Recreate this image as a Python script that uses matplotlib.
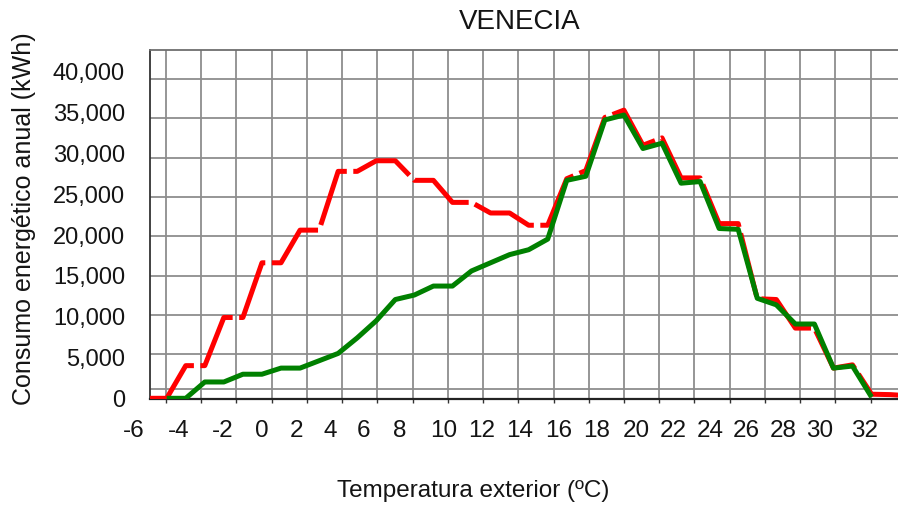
import numpy as np
import matplotlib
matplotlib.use("Agg")
import matplotlib.pyplot as plt
from matplotlib.ticker import FuncFormatter

# ---------------- data ----------------
temperaturas = list(range(-6, 35))  # ºC
consumo_rojo = [0, 0, 4000, 4000, 9900, 9900, 16600, 16600, 20600, 20600,
                27800, 27800, 29100, 29100, 26700, 26700, 24000, 24000, 22700, 22700,
                21200, 21200, 26900, 27900, 34400, 35300, 31000, 31900, 27000, 27000,
                21400, 21400, 12200, 12100, 8600, 8600, 3700, 4100, 500, 450, 300]
consumo_verde = [np.nan, 0, 0, 2000, 2000, 2950, 2950, 3700, 3700, 4600,
                 5500, 7400, 9500, 12100, 12650, 13750, 13750, 15600, 16600, 17600,
                 18200, 19500, 26700, 27200, 34100, 34700, 30600, 31250, 26350, 26550,
                 20800, 20700, 12250, 11450, 9100, 9100, 3700, 3950, 150, np.nan, np.nan]
y_ticks = [0, 5000, 10000, 15000, 20000, 25000, 30000, 35000, 40000]
x_tick_labels = ["-6", "-4", "-2", "0", "2", "4", "6", "8", "10", "12", "14",
                 "16", "18", "20", "22", "24", "26", "28", "30", "32"]
titulo = "VENECIA"
x_titulo = "Temperatura exterior (ºC)"
y_titulo = "Consumo energético anual (kWh)"

# ---------------- layout (pixels) ----------------
W, H = 898, 505
AX_L, AX_R, AX_T, AX_B = 150, 898, 50, 399.3
T0_PX, T_STEP = 147.65, 19.05          # pixel of -6 ºC and pixels per ºC
Y0_PX, V_PER_PX = 398.3, 122.5           # pixel of 0 kWh and kWh per pixel
xlim = (-6 + (AX_L - T0_PX) / T_STEP, -6 + (AX_R - T0_PX) / T_STEP)
ylim = (-(AX_B - Y0_PX) * V_PER_PX, (Y0_PX - AX_T) * V_PER_PX)

vgrid_px = [166 + 35.23 * k for k in range(21)]
hgrid_px = [389.3] + [354.3 - 39.33 * k for k in range(8)]
xlabel_px = [134, 178.3, 222.3, 261.7, 296.7, 330, 364, 400, 443.3, 481.7, 520,
             558.3, 596.7, 636.7, 673.3, 710, 746.7, 783.3, 820, 865]
XLABEL_Y = 431

font = ["Liberation Sans", "DejaVu Sans"]
plt.rcParams["font.family"] = font
TXT = "#141414"

fig = plt.figure(figsize=(W / 100, H / 100), dpi=100)
ax = fig.add_axes([AX_L / W, (H - AX_B) / H, (AX_R - AX_L) / W, (AX_B - AX_T) / H])
ax.set_xlim(*xlim)
ax.set_ylim(*ylim)

def px2x(px):
    return xlim[0] + (px - AX_L) / (AX_R - AX_L) * (xlim[1] - xlim[0])

def px2y(py):
    return (Y0_PX - py) * V_PER_PX

# grid
ax.set_xticks([])
ax.set_xticks([px2x(p) for p in vgrid_px], minor=True)
ax.set_yticks(y_ticks)
ax.set_yticks([px2y(p) for p in hgrid_px], minor=True)
ax.grid(which="minor", color="#8e8e8e", linewidth=1.3)
ax.grid(which="major", visible=False)
ax.set_axisbelow(True)
ax.tick_params(axis="x", which="minor", direction="out", length=3, width=1, color="#333333",
               labelbottom=False)
ax.tick_params(axis="y", which="minor", length=0)
ax.tick_params(axis="y", which="major", length=0, pad=18, labelsize=17, labelcolor=TXT)
ax.yaxis.set_major_formatter(FuncFormatter(lambda v, p: f"{v:,.0f}"))

ax.spines["top"].set_color("#6e6e6e")
ax.spines["top"].set_linewidth(1.3)
ax.spines["right"].set_visible(False)
ax.spines["left"].set_color("#333333")
ax.spines["left"].set_linewidth(1.3)
ax.spines["bottom"].set_color("#222222")
ax.spines["bottom"].set_linewidth(1.6)

# series
ax.plot(temperaturas, consumo_rojo, color="#ff0000", linewidth=3.6,
        dashes=(13.0, 1.3), dash_capstyle="butt", zorder=3)
ax.plot(temperaturas, consumo_verde, color="#008000", linewidth=3.6,
        solid_capstyle="butt", solid_joinstyle="round", zorder=4)

# texts
for lab, px in zip(x_tick_labels, xlabel_px):
    fig.text(px / W, 1 - XLABEL_Y / H, lab, ha="center", va="center",
             fontsize=17.5, color=TXT)
fig.text(520 / W, 1 - 22 / H, titulo, ha="center", va="center", fontsize=20, color=TXT)
fig.text(473 / W, 1 - 491 / H, x_titulo, ha="center", va="center", fontsize=17.5, color=TXT)
fig.text(24 / W, 1 - 219 / H, y_titulo, ha="center", va="center", rotation=90,
         fontsize=18, color=TXT)

fig.savefig("out.png", dpi=100)
